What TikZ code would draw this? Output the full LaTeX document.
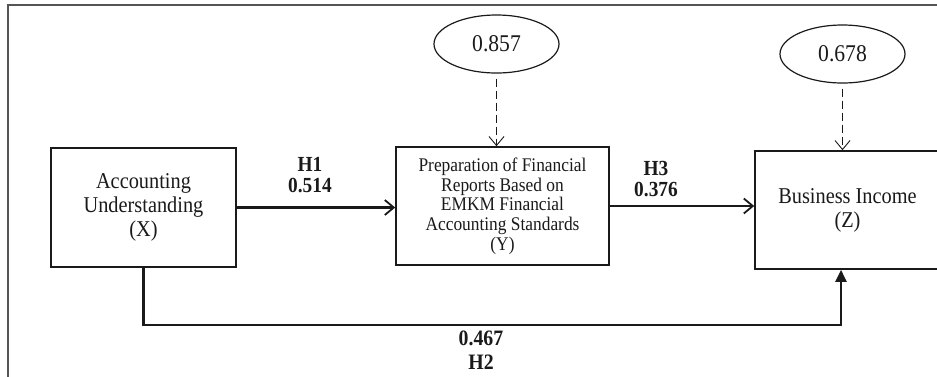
\documentclass[tikz,border=0pt]{standalone}
\usepackage{fontspec}
\setmainfont[FakeStretch=0.9]{Liberation Serif}
\usetikzlibrary{arrows.meta,positioning,shapes.geometric}
\definecolor{framegray}{HTML}{555555}
\definecolor{inkblack}{HTML}{1A1A1A}

\begin{document}
\begin{tikzpicture}[x=1pt, y=-1pt,
    construct/.style={rectangle, draw=inkblack, line width=1.6pt, text=inkblack,
                      align=center, inner sep=0pt,
                      font=\fontsize{22.6}{24}\selectfont},
    residual/.style={ellipse, draw=inkblack, line width=1.2pt, text=inkblack,
                     minimum width=125pt, minimum height=58pt, inner sep=0pt,
                     font=\fontsize{24}{26}\selectfont},
    coef/.style={align=center, text=inkblack,
                 font=\fontsize{21.5}{21}\selectfont\bfseries},
    arr/.style={-{Straight Barb[length=9pt, width=15pt, line width=1.8pt]}, line width=2.6pt, color=inkblack},
    arrfill/.style={-{Triangle[length=12pt, width=11pt]}, line width=2.4pt, color=inkblack},
    dasharr/.style={-{Straight Barb[length=9pt, width=15pt, line width=0.9pt]}, dashed,
                    dash pattern=on 8pt off 4pt, line width=1pt, color=inkblack}
  ]
  \clip (0,0) rectangle (937,376);
  \fill[white] (0,0) rectangle (937,376);
  \draw[framegray, line width=1.4pt] (8,380) -- (8,5) -- (945,5);

  \node[construct, minimum width=185pt, minimum height=119pt] (X) at (143.5,207.5)
    {Accounting\\Understanding\\(X)};
  \node[construct, minimum width=213pt, minimum height=118pt,
        font=\fontsize{19.3}{19.7}\selectfont] (Y) at (502.5,206)
    {Preparation of Financial\\Reports Based on\\EMKM Financial\\Accounting Standards\\(Y)};
  \node[construct, minimum width=185pt, minimum height=118pt] (Z) at (847.5,210)
    {Business Income\\(Z)};

  \node[residual] (eY) at (496.5,44) {0.857};
  \node[residual] (eZ) at (842.5,54) {0.678};

  \draw[dasharr, shorten <=5pt] (eY.south) -- (eY.south |- Y.north);
  \draw[dasharr, shorten <=5pt] (eZ.south) -- (eZ.south |- Z.north);

  \draw[arr] (X.east) -- (X.east -| Y.west);
  \draw[arr] (Y.east) -- (Y.east -| Z.west);

  \coordinate (h2turn) at (841,325);
  \draw[arrfill] (X.south) |- (h2turn) -- (h2turn |- Z.south);

  \node[coef] (h1) at (310,175) {H1\\0.514};
  \node[coef] (h3) at (656,179) {H3\\0.376};
  \node[coef, font=\fontsize{22}{24}\selectfont\bfseries] (h2) at (481,350) {0.467\\H2};
\end{tikzpicture}
\end{document}
